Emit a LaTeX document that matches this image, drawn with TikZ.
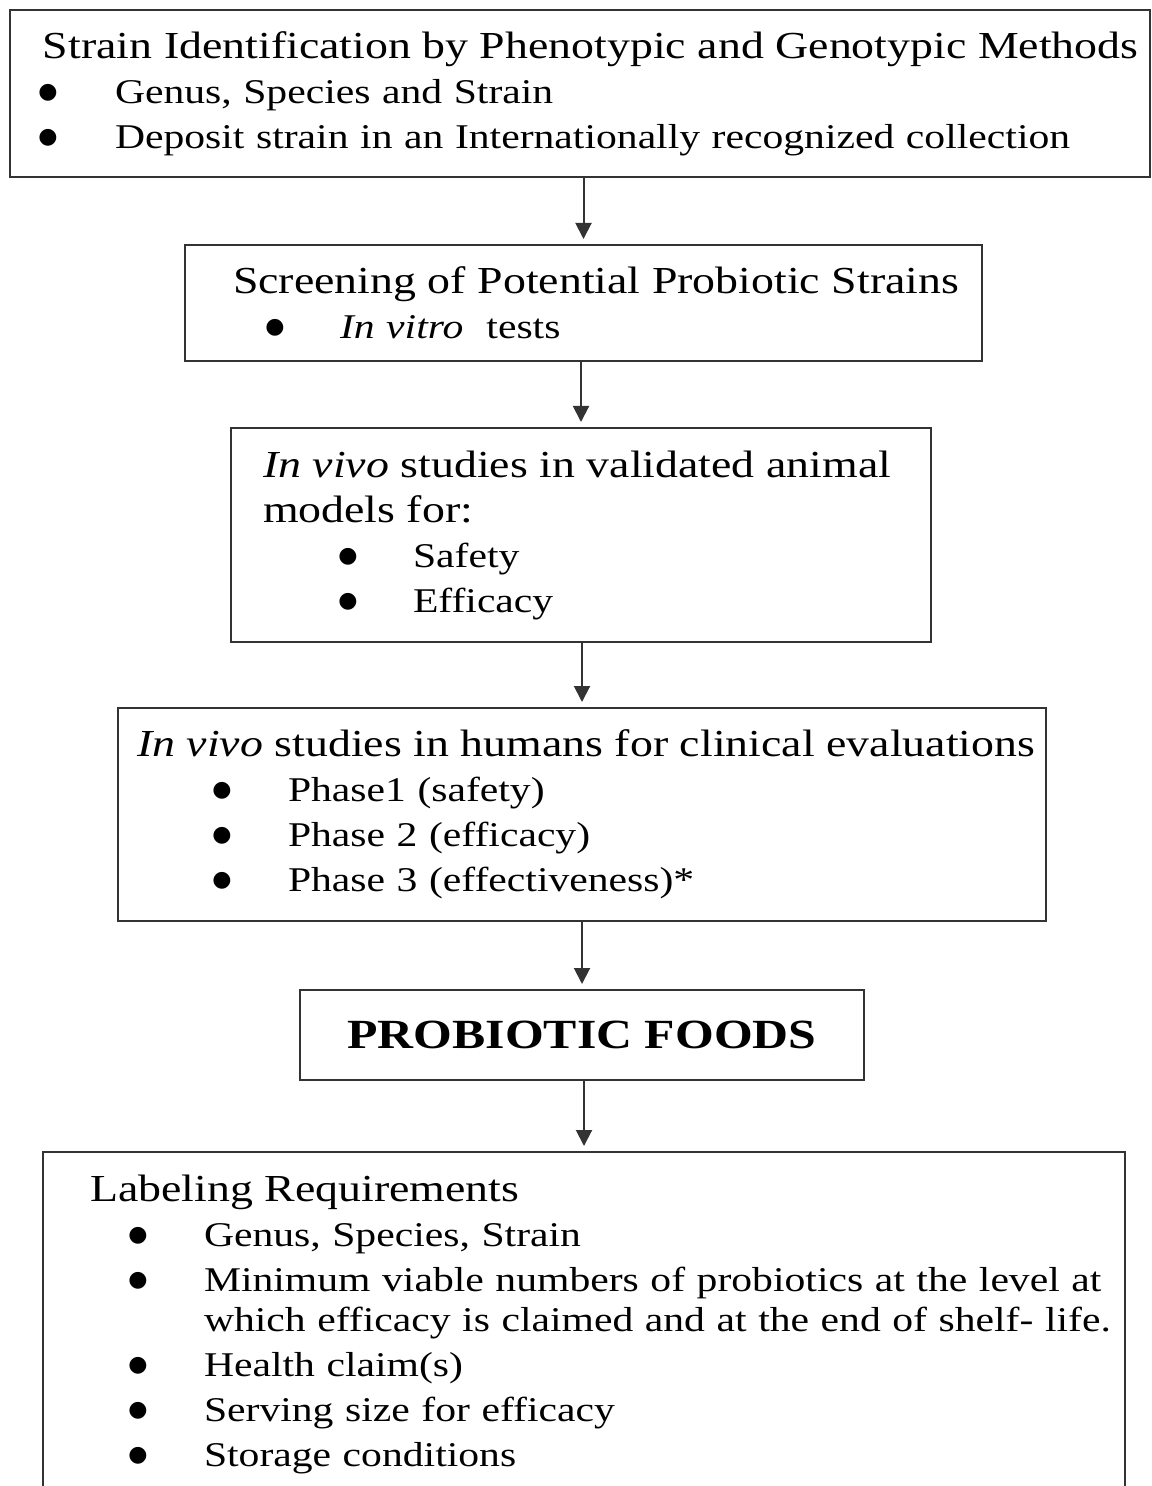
\documentclass[tikz,border=0pt]{standalone}
\usepackage{fontspec}
\setmainfont[FakeStretch=1.2]{Liberation Serif}
\newfontfamily\dotfont{DejaVu Sans}
\usepackage{tikz}
\usetikzlibrary{arrows.meta,positioning}
% heading line and bullet line inside a stage box
\newcommand{\ttl}[2]{\hspace*{#1}\mbox{\fontsize{19.1pt}{22.5pt}\selectfont #2}}
\newcommand{\dotmark}{\raisebox{2.5pt}{\dotfont\fontsize{11pt}{11pt}\selectfont ●}}
\newcommand{\bul}[3]{\hspace*{#1}\makebox[0pt]{\dotmark}\hspace*{\dimexpr #2-#1\relax}\mbox{#3}}
\tikzset{
  stagebox/.style={rectangle, draw=black!80, line width=1pt, inner xsep=0pt, inner ysep=4pt,
    align=left, font=\fontsize{17.35pt}{22.5pt}\selectfont},
  foodsbox/.style={rectangle, draw=black!80, line width=1pt, align=center,
    font=\fontsize{20.75pt}{24pt}\selectfont\bfseries},
  flowarrow/.style={-{Triangle[length=8pt,width=8pt]}, draw=black!80, line width=1pt,
    shorten >=2.5pt},
}

\begin{document}
\begin{tikzpicture}
  \useasboundingbox (0,0) rectangle (575.5pt,-743pt);

  % Stages (top to bottom)
  \node[stagebox, text width=570pt, minimum height=83.5pt] (ident) at (290pt,-46.75pt) {%
    \ttl{16.5pt}{Strain Identification by Phenotypic and Genotypic Methods}\\
    \bul{19pt}{52.5pt}{Genus, Species and Strain}\\
    \bul{19pt}{52.5pt}{Deposit strain in an Internationally recognized collection}};
  \node[stagebox, text width=398.5pt, minimum height=58pt, below=33pt of ident, xshift=1.75pt] (screen) {%
    \ttl{24pt}{Screening of Potential Probiotic Strains}\\
    \bul{45pt}{77.5pt}{\textit{In vitro}\ \ tests}};
  \node[stagebox, text width=350pt, minimum height=107pt, below=32.5pt of screen, xshift=-1.25pt] (animal) {%
    \ttl{16pt}{\textit{In vivo} studies in validated animal}\\
    \ttl{16pt}{models for:}\\
    \bul{58.5pt}{91pt}{Safety}\\
    \bul{58.5pt}{91pt}{Efficacy}};
  \node[stagebox, text width=464pt, minimum height=106.5pt, below=32pt of animal, xshift=0.5pt] (human) {%
    \ttl{9.5pt}{\textit{In vivo} studies in humans for clinical evaluations}\\
    \bul{52pt}{85pt}{Phase1 (safety)}\\
    \bul{52pt}{85pt}{Phase 2 (efficacy)}\\
    \bul{52pt}{85pt}{Phase 3 (effectiveness)*}};
  \node[foodsbox, minimum width=282pt, minimum height=45pt, below=33.5pt of human] (foods) {PROBIOTIC FOODS};
  \node[stagebox, text width=541pt, minimum height=172pt, below=35pt of foods, xshift=1pt] (label) {%
    \ttl{23.5pt}{Labeling Requirements}\\
    \bul{47.5pt}{80.5pt}{Genus, Species, Strain}\\
    \bul{47.5pt}{80.5pt}{Minimum viable numbers of probiotics at the level at}\\[-2.5pt]
    \hspace*{80.5pt}\mbox{which efficacy is claimed and at the end of shelf- life.}\\
    \bul{47.5pt}{80.5pt}{Health claim(s)}\\
    \bul{47.5pt}{80.5pt}{Serving size for efficacy}\\
    \bul{47.5pt}{80.5pt}{Storage conditions}};

  % Arrows between stages
  \draw[flowarrow] (screen.north |- ident.south) -- (screen.north);
  \draw[flowarrow] (animal.north |- screen.south) -- (animal.north);
  \draw[flowarrow] (human.north |- animal.south) -- (human.north);
  \draw[flowarrow] (foods.north |- human.south) -- (foods.north);
  \draw[flowarrow] (label.north |- foods.south) -- (label.north);

\end{tikzpicture}
\end{document}
